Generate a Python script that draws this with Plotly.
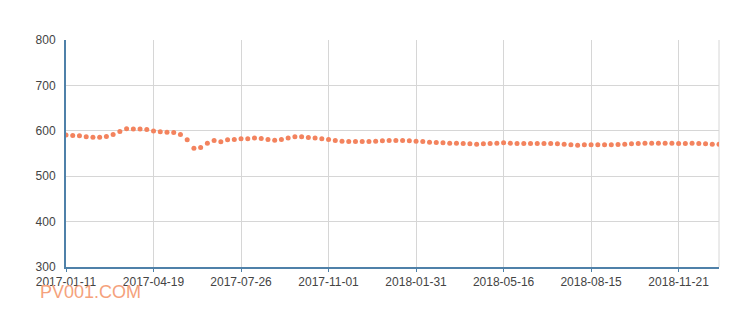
import plotly.graph_objects as go

dates = [
    "2017-01-11", "2017-01-18", "2017-01-25", "2017-02-08", "2017-02-15", "2017-02-22", "2017-03-01",
    "2017-03-08", "2017-03-15", "2017-03-22", "2017-03-29", "2017-04-05", "2017-04-12", "2017-04-19",
    "2017-04-26", "2017-05-10", "2017-05-17", "2017-05-24", "2017-05-31", "2017-06-07", "2017-06-14",
    "2017-06-21", "2017-06-28", "2017-07-05", "2017-07-12", "2017-07-19", "2017-07-26",
    "2017-08-02", "2017-08-09", "2017-08-16", "2017-08-23", "2017-08-30", "2017-09-06", "2017-09-13",
    "2017-09-20", "2017-09-27", "2017-10-11", "2017-10-18", "2017-10-25", "2017-11-01",
    "2017-11-08", "2017-11-15", "2017-11-22", "2017-11-29", "2017-12-06", "2017-12-13", "2017-12-20",
    "2017-12-27", "2018-01-03", "2018-01-10", "2018-01-17", "2018-01-24", "2018-01-31",
    "2018-02-07", "2018-02-28", "2018-03-07", "2018-03-14", "2018-03-21", "2018-03-28", "2018-04-04",
    "2018-04-11", "2018-04-18", "2018-04-25", "2018-05-02", "2018-05-09", "2018-05-16",
    "2018-05-23", "2018-05-30", "2018-06-06", "2018-06-13", "2018-06-20", "2018-06-27", "2018-07-04",
    "2018-07-11", "2018-07-18", "2018-07-25", "2018-08-01", "2018-08-08", "2018-08-15",
    "2018-08-22", "2018-08-29", "2018-09-05", "2018-09-12", "2018-09-19", "2018-09-26", "2018-10-10",
    "2018-10-17", "2018-10-24", "2018-10-31", "2018-11-07", "2018-11-14", "2018-11-21",
    "2018-11-28", "2018-12-05", "2018-12-12", "2018-12-19", "2018-12-26", "2019-01-02",
]

values = [
    590.5, 589.7, 589.0, 586.8, 586.0, 586.0, 587.5, 591.9, 598.5, 604.4, 603.7, 603.7, 602.9, 599.3,
    597.8, 597.0, 596.3, 591.9, 580.2, 561.8, 563.3, 572.8, 578.7, 575.8, 580.2, 580.9, 582.4, 582.4,
    583.9, 583.1, 580.9, 579.4, 580.9, 583.9, 586.8, 586.8, 585.3, 583.9, 582.4, 580.9,
    578.7, 577.2, 576.5, 576.5, 576.5, 576.5, 577.2, 578.0, 578.7, 578.7, 578.7, 578.0, 577.2,
    576.5, 575.0, 574.3, 573.6, 572.8, 572.8, 572.1, 571.4, 570.6, 571.4, 572.1, 572.8,
    573.6, 572.8, 572.1, 572.1, 572.1, 572.1, 572.1, 572.1, 571.4, 570.6, 569.2, 568.4, 569.2,
    569.2, 569.2, 569.2, 569.2, 569.9, 570.6, 571.4, 572.1, 572.8, 572.8, 572.8, 572.8, 572.8,
    572.1, 572.1, 572.8, 572.1, 571.4, 570.6, 570.6,
]

tick_labels = ["2017-01-11", "2017-04-19", "2017-07-26", "2017-11-01",
               "2018-01-31", "2018-05-16", "2018-08-15", "2018-11-21"]
y_ticks = [300, 400, 500, 600, 700, 800]

AXIS_BLUE = "#4f81a9"
GRID = "#d6d6d6"
FONT = "Liberation Sans, Arial, sans-serif"

fig = go.Figure()
fig.add_trace(go.Scatter(
    x=dates, y=values, mode="markers",
    marker=dict(color="#f3835e", size=5, line=dict(width=0)),
    showlegend=False, hoverinfo="x+y",
))

fig.update_layout(
    width=750, height=316,
    margin=dict(l=66, r=31, t=40, b=49),
    paper_bgcolor="white", plot_bgcolor="white",
    font=dict(family=FONT, size=12, color="#444"),
    xaxis=dict(
        type="category", range=[0, len(dates) - 1],
        tickmode="array", tickvals=tick_labels, ticktext=tick_labels,
        showgrid=True, gridcolor=GRID, gridwidth=1,
        showline=True, linecolor=AXIS_BLUE, linewidth=2,
        ticks="outside", ticklen=3, tickcolor=AXIS_BLUE, tickwidth=1,
        tickfont=dict(size=12, color="#444"),
        zeroline=False, fixedrange=True,
    ),
    yaxis=dict(
        range=[300, 800], tickmode="array", tickvals=y_ticks,
        showgrid=True, gridcolor=GRID, gridwidth=1,
        showline=True, linecolor=AXIS_BLUE, linewidth=2,
        ticks="", ticklabelstandoff=6,
        tickfont=dict(size=12, color="#444"),
        zeroline=False, fixedrange=True,
    ),
    shapes=[dict(type="line", xref="paper", yref="paper", x0=1, x1=1, y0=0, y1=1,
                 line=dict(color=GRID, width=1), layer="below")],
    annotations=[dict(text="PV001.COM", xref="paper", yref="paper", x=-0.043, y=-0.112,
                      xanchor="left", yanchor="middle", showarrow=False,
                      font=dict(family=FONT, size=18, color="#f5a27c"))],
)

fig.write_html("out.html")
